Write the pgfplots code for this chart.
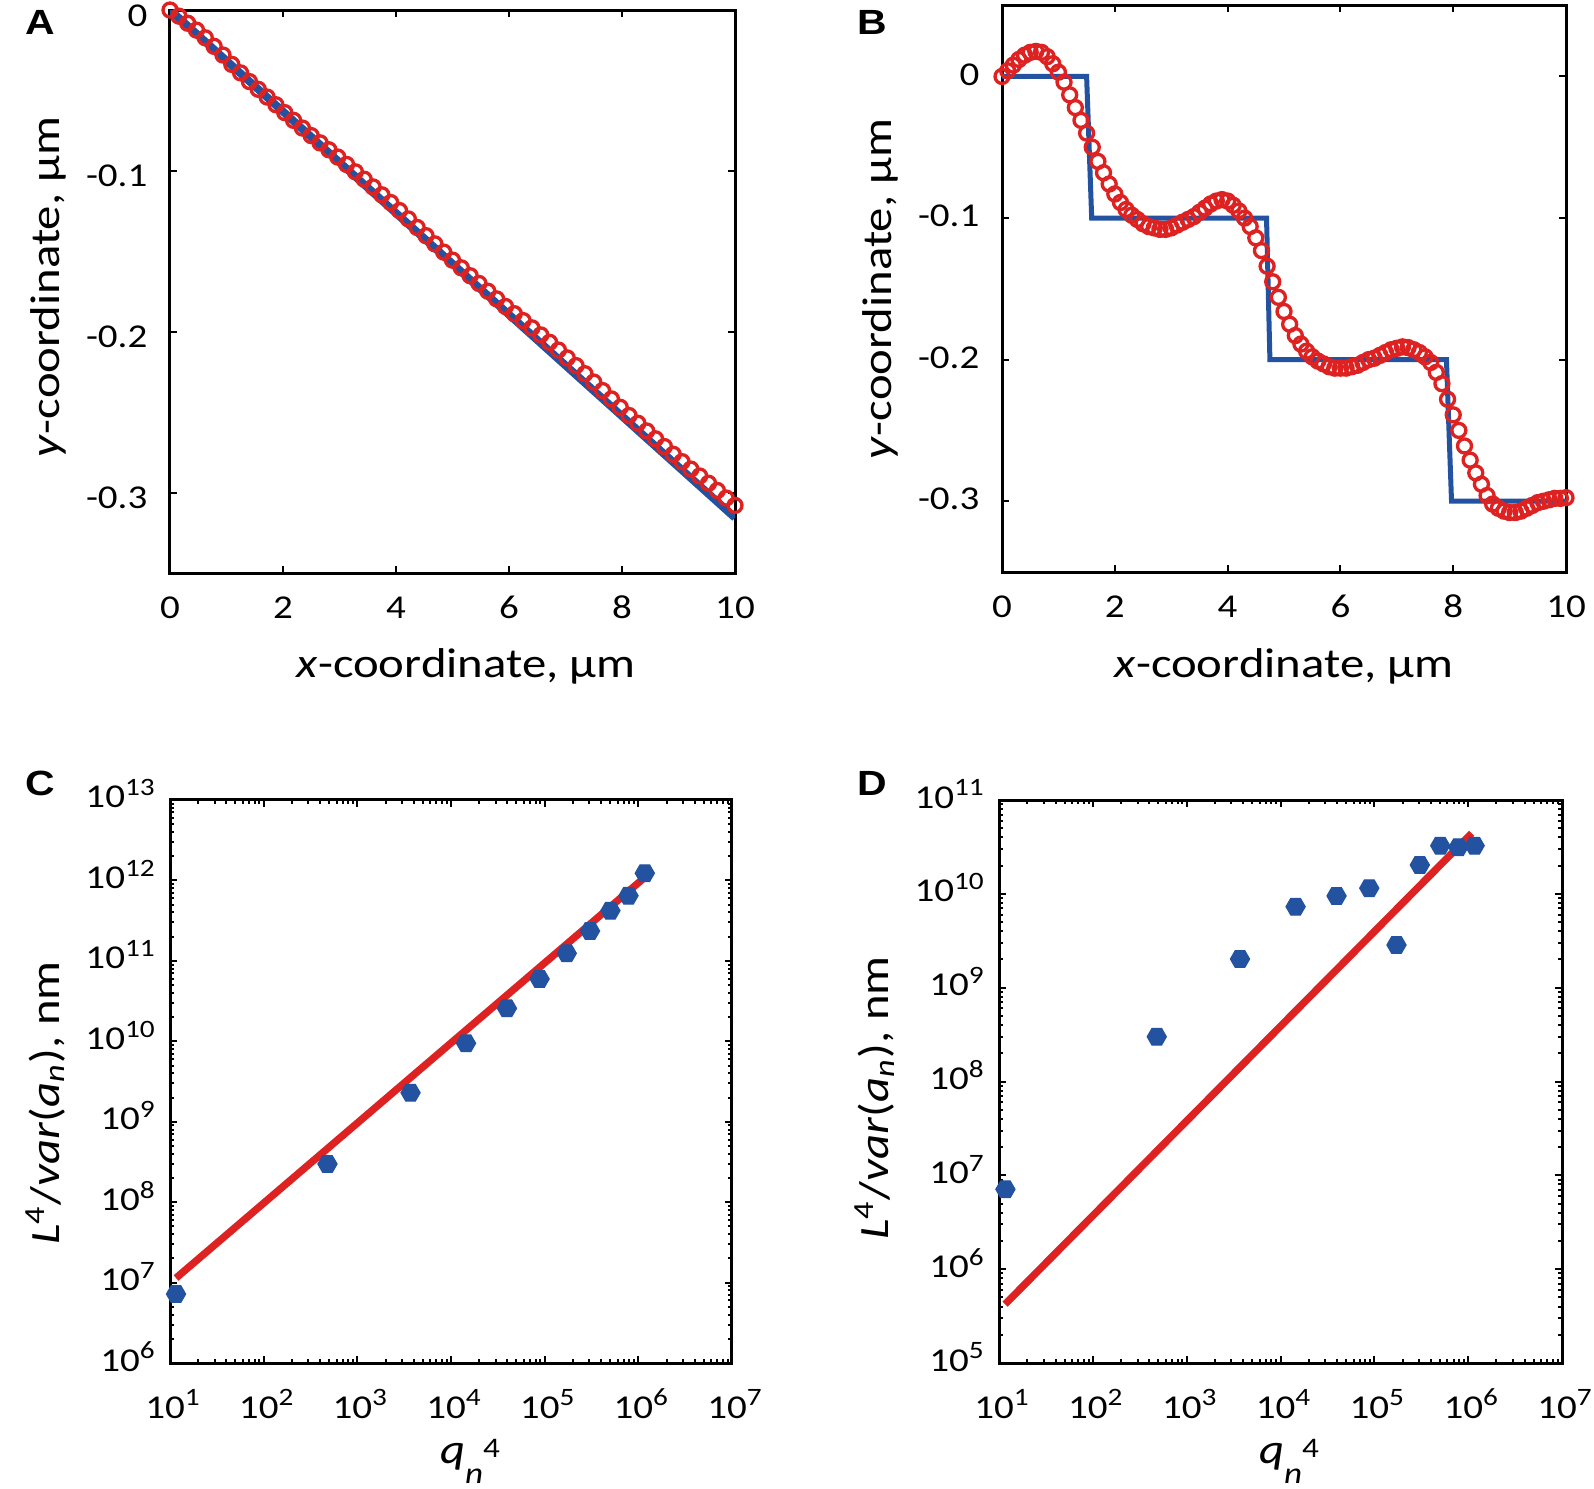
\documentclass[border=0pt]{standalone}
\usepackage{fontspec}
\setmainfont{Carlito}[FakeStretch=1.17]
\newfontfamily\panelfont{Liberation Sans}[FakeStretch=1.17]
\usepackage{pgfplots}
\pgfplotsset{compat=1.18}
\definecolor{mblue}{RGB}{34,82,160}
\definecolor{mred}{RGB}{222,34,34}
\newcommand\tenexp[1]{10\textsuperscript{\fontsize{7.5}{8}\selectfont #1}}
\pgfdeclareplotmark{hexagon*}{%
  \pgfpathmoveto{\pgfqpointpolar{0}{\pgfplotmarksize}}%
  \pgfpathlineto{\pgfqpointpolar{60}{\pgfplotmarksize}}%
  \pgfpathlineto{\pgfqpointpolar{120}{\pgfplotmarksize}}%
  \pgfpathlineto{\pgfqpointpolar{180}{\pgfplotmarksize}}%
  \pgfpathlineto{\pgfqpointpolar{240}{\pgfplotmarksize}}%
  \pgfpathlineto{\pgfqpointpolar{300}{\pgfplotmarksize}}%
  \pgfpathclose
  \pgfusepathqfillstroke}
\pgfplotsset{
  panel/.style={
    scale only axis,
    axis line style={line width=0.9pt},
    every tick/.style={black, line width=0.6pt},
    major tick length=2pt, minor tick length=1.2pt,
    tick align=inside,
    tick label style={font=\fontsize{10}{12}\selectfont, inner sep=0pt},
  },
  linpanel/.style={panel,
    xmin=0, xmax=10, xtick={0,2,4,6,8,10}, xticklabels={0,2,4,6,8,10},
    ytick={-0.3,-0.2,-0.1,0}, yticklabels={{-0.3},{-0.2},{-0.1},{0}},
    xticklabel style={anchor=base, yshift=-13.6pt},
  },
  logpanel/.style={panel,
    log basis x=10, log basis y=10,
    xmin=10, xmax=1e7, xtickten={1,...,7},
    minor xtick={2e1,3e1,4e1,5e1,6e1,7e1,8e1,9e1,2e2,3e2,4e2,5e2,6e2,7e2,8e2,9e2,2e3,3e3,4e3,5e3,6e3,7e3,8e3,9e3,2e4,3e4,4e4,5e4,6e4,7e4,8e4,9e4,2e5,3e5,4e5,5e5,6e5,7e5,8e5,9e5,2e6,3e6,4e6,5e6,6e6,7e6,8e6,9e6},
    xticklabel={\pgfmathparse{int(round(\tick))}\tenexp{\pgfmathresult}},
    yticklabel={\pgfmathparse{int(round(\tick))}\tenexp{\pgfmathresult}},
    xticklabel style={anchor=base, yshift=-16.5pt, xshift=1pt},
    yticklabel style={anchor=base east, xshift=-3.9pt, yshift=-2.4pt},
  },
  redcircles/.style={only marks, mark=o, mred,
    mark options={line width=1.0pt, scale=1}, mark size=2.1pt},
}
\pgfplotstableread{
x y
0 0
0.1563 -0.0038
0.3125 -0.0082
0.4688 -0.0125
0.625 -0.0173
0.7813 -0.0226
0.9375 -0.0280
1.0938 -0.0338
1.25 -0.0391
1.4063 -0.0445
1.5625 -0.0493
1.7188 -0.0541
1.875 -0.0589
2.0313 -0.0638
2.1875 -0.0686
2.3438 -0.0734
2.5 -0.0781
2.6563 -0.0826
2.8125 -0.0869
2.9688 -0.0914
3.125 -0.0960
3.2813 -0.1006
3.4375 -0.1052
3.5938 -0.1100
3.75 -0.1149
3.9063 -0.1197
4.0625 -0.1247
4.2188 -0.1299
4.375 -0.1352
4.5313 -0.1403
4.6875 -0.1454
4.8438 -0.1505
5 -0.1555
5.1563 -0.1603
5.3125 -0.1652
5.4688 -0.1700
5.625 -0.1748
5.7813 -0.1796
5.9375 -0.1843
6.0938 -0.1888
6.25 -0.1931
6.4063 -0.1976
6.5625 -0.2020
6.7188 -0.2066
6.875 -0.2114
7.0313 -0.2163
7.1875 -0.2211
7.3438 -0.2261
7.5 -0.2313
7.6563 -0.2366
7.8125 -0.2418
7.9688 -0.2470
8.125 -0.2521
8.2813 -0.2569
8.4375 -0.2617
8.5938 -0.2666
8.75 -0.2714
8.9063 -0.2762
9.0625 -0.2808
9.2188 -0.2854
9.375 -0.2897
9.5313 -0.2942
9.6875 -0.2987
9.8438 -0.3034
10 -0.3080
}\tabAred
\pgfplotstableread{
x y
0.0 0.000
0.1 0.004
0.2 0.008
0.3 0.012
0.4 0.015
0.5 0.017
0.6 0.0177
0.7 0.017
0.8 0.014
0.9 0.009
1.0 0.003
1.1 -0.004
1.2 -0.013
1.3 -0.022
1.4 -0.031
1.5 -0.040
1.6 -0.050
1.7 -0.060
1.8 -0.068
1.9 -0.076
2.0 -0.083
2.1 -0.089
2.2 -0.094
2.3 -0.098
2.4 -0.101
2.5 -0.104
2.6 -0.106
2.7 -0.107
2.8 -0.108
2.9 -0.108
3.0 -0.107
3.1 -0.105
3.2 -0.103
3.3 -0.101
3.4 -0.099
3.5 -0.096
3.6 -0.093
3.7 -0.090
3.8 -0.088
3.9 -0.087
4.0 -0.088
4.1 -0.091
4.2 -0.095
4.3 -0.100
4.4 -0.106
4.5 -0.114
4.6 -0.123
4.7 -0.134
4.8 -0.145
4.9 -0.156
5.0 -0.166
5.1 -0.175
5.2 -0.183
5.3 -0.189
5.4 -0.194
5.5 -0.198
5.6 -0.201
5.7 -0.203
5.8 -0.205
5.9 -0.206
6.0 -0.206
6.1 -0.206
6.2 -0.205
6.3 -0.204
6.4 -0.202
6.5 -0.200
6.6 -0.199
6.7 -0.197
6.8 -0.195
6.9 -0.193
7.0 -0.192
7.1 -0.191
7.2 -0.1915
7.3 -0.193
7.4 -0.195
7.5 -0.198
7.6 -0.202
7.7 -0.209
7.8 -0.217
7.9 -0.228
8.0 -0.239
8.1 -0.250
8.2 -0.261
8.3 -0.271
8.4 -0.280
8.5 -0.288
8.6 -0.296
8.7 -0.302
8.8 -0.305
8.9 -0.307
9.0 -0.308
9.1 -0.308
9.2 -0.307
9.3 -0.305
9.4 -0.303
9.5 -0.301
9.6 -0.300
9.7 -0.299
9.8 -0.298
9.9 -0.298
10.0 -0.2975
}\tabBred
\pgfplotstableread{
x y
11.6 7.2e6
480 2.98e8
3700 2.29e9
14478 9.44e9
39563 2.57e10
88285 5.96e10
172222 1.24e11
305269 2.35e11
503632 4.21e11
785836 6.46e11
1172720 1.23e12
}\tabC
\pgfplotstableread{
x y
11.7 7.1e6
480 3.0e8
3700 2.02e9
14478 7.3e9
39563 9.5e9
88285 1.15e10
172222 2.85e9
305269 2.03e10
503632 3.26e10
785836 3.13e10
1172720 3.26e10
}\tabD
\begin{document}
\begin{tikzpicture}
\path[use as bounding box] (0,0) rectangle (478.2pt,-446.4pt);
% ---------- A ----------
\begin{axis}[linpanel, at={(51pt,-171.9pt)}, anchor=south west,
  width=169.5pt, height=168.9pt, ymin=-0.35, ymax=0,
  yticklabel style={anchor=base east, xshift=-6.6pt, yshift=-4.8pt}]
\addplot[redcircles] table {\tabAred};
\addplot[mblue, line width=2.4pt] coordinates {(0,0) (10,-0.3156)};
\end{axis}
% ---------- B ----------
\begin{axis}[linpanel, at={(300.6pt,-171.6pt)}, anchor=south west,
  width=169.2pt, height=169.9pt, ymin=-0.35, ymax=0.05,
  yticklabel style={anchor=base east, xshift=-6.6pt, yshift=-2.6pt}]
\addplot[mblue, line width=1.5pt] coordinates {(0,0) (1.50,0) (1.59,-0.1) (4.69,-0.1) (4.75,-0.2) (7.88,-0.2) (7.97,-0.3) (10,-0.3)};
\addplot[redcircles] table {\tabBred};
\end{axis}
% ---------- C ----------
\begin{loglogaxis}[logpanel, at={(51pt,-408.9pt)}, anchor=south west,
  width=168.6pt, height=168.9pt, ymin=1e6, ymax=1e13, ytickten={6,...,13},
  minor ytick={2e6,3e6,4e6,5e6,6e6,7e6,8e6,9e6,2e7,3e7,4e7,5e7,6e7,7e7,8e7,9e7,2e8,3e8,4e8,5e8,6e8,7e8,8e8,9e8,2e9,3e9,4e9,5e9,6e9,7e9,8e9,9e9,2e10,3e10,4e10,5e10,6e10,7e10,8e10,9e10,2e11,3e11,4e11,5e11,6e11,7e11,8e11,9e11,2e12,3e12,4e12,5e12,6e12,7e12,8e12,9e12}]
\addplot[mred, line width=2.2pt] coordinates {(11.6,1.14e7) (1.17e6,1.09e12)};
\addplot[only marks, mark=hexagon*, mark size=2.9pt, mblue, mark options={fill=mblue, line width=0.3pt}] table {\tabC};
\end{loglogaxis}
% ---------- D ----------
\begin{loglogaxis}[logpanel, at={(299.7pt,-408.9pt)}, anchor=south west,
  width=168.9pt, height=168.9pt, ymin=1e5, ymax=1e11, ytickten={5,...,11},
  minor ytick={2e5,3e5,4e5,5e5,6e5,7e5,8e5,9e5,2e6,3e6,4e6,5e6,6e6,7e6,8e6,9e6,2e7,3e7,4e7,5e7,6e7,7e7,8e7,9e7,2e8,3e8,4e8,5e8,6e8,7e8,8e8,9e8,2e9,3e9,4e9,5e9,6e9,7e9,8e9,9e9,2e10,3e10,4e10,5e10,6e10,7e10,8e10,9e10}]
\addplot[mred, line width=2.2pt] coordinates {(11.6,4.23e5) (1.09e6,4.42e10)};
\addplot[only marks, mark=hexagon*, mark size=2.9pt, mblue, mark options={fill=mblue, line width=0.3pt}] table {\tabD};
\end{loglogaxis}
% ---------- labels ----------
\begin{scope}[every node/.style={inner sep=0pt}]
\node[anchor=base, font=\fontsize{12.5}{15}\selectfont] at (139.8pt,-203.1pt) {\textit{x}-coordinate, µm};
\node[anchor=base, font=\fontsize{12.5}{15}\selectfont] at (385.2pt,-203.1pt) {\textit{x}-coordinate, µm};
\node[anchor=base, rotate=90, font=\fontsize{12.5}{15}\selectfont] at (17.7pt,-86.1pt) {\textit{y}-coordinate, µm};
\node[anchor=base, rotate=90, font=\fontsize{12.5}{15}\selectfont] at (267.3pt,-86.7pt) {\textit{y}-coordinate, µm};
\node[anchor=base, font=\fontsize{12.5}{15}\selectfont] at (141pt,-438.9pt) {\textit{q}\raisebox{-6pt}{\fontsize{9}{9}\selectfont\textit{n}}\raisebox{1.8pt}{\fontsize{8.5}{9}\selectfont 4}};
\node[anchor=base, font=\fontsize{12.5}{15}\selectfont] at (386.7pt,-438.9pt) {\textit{q}\raisebox{-6pt}{\fontsize{9}{9}\selectfont\textit{n}}\raisebox{1.8pt}{\fontsize{8.5}{9}\selectfont 4}};
\node[anchor=base, rotate=90, font=\fontsize{12.5}{15}\selectfont] at (17.7pt,-330.9pt) {\textit{L}\textsuperscript{4}/\textit{var}(\textit{a}\textsubscript{\textit{n}}), nm};
\node[anchor=base, rotate=90, font=\fontsize{12.5}{15}\selectfont] at (266.4pt,-329.4pt) {\textit{L}\textsuperscript{4}/\textit{var}(\textit{a}\textsubscript{\textit{n}}), nm};
\node[anchor=base, font=\panelfont\bfseries\fontsize{10.5}{12}\selectfont] at (12pt,-10.5pt) {A};
\node[anchor=base, font=\panelfont\bfseries\fontsize{10.5}{12}\selectfont] at (261.6pt,-10.5pt) {B};
\node[anchor=base, font=\panelfont\bfseries\fontsize{10.5}{12}\selectfont] at (12pt,-238.5pt) {C};
\node[anchor=base, font=\panelfont\bfseries\fontsize{10.5}{12}\selectfont] at (261.6pt,-238.5pt) {D};
\end{scope}
\end{tikzpicture}
\end{document}
